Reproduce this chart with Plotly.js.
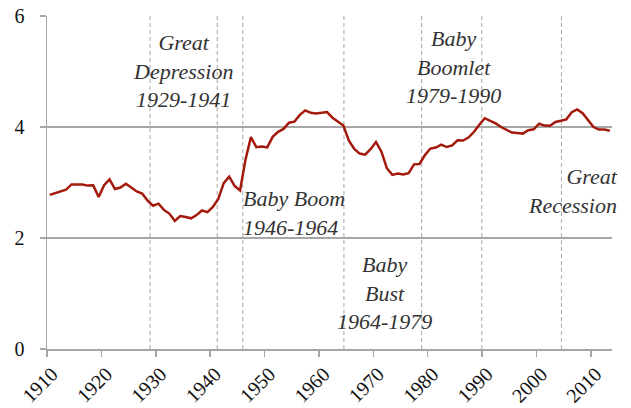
<!DOCTYPE html>
<html>
<head>
<meta charset="utf-8">
<script src="https://cdn.plot.ly/plotly-3.0.1.min.js"></script>
<style>html,body{margin:0;padding:0;background:#fff;}#chart{width:631px;height:408px;}</style>
</head>
<body>
<div id="chart"></div>
<script>
// US births (millions), 1910-2013
const years = [];
for (let y = 1910; y <= 2013; y++) years.push(y);
const births = [
  2.777, 2.809, 2.840, 2.869, 2.966, 2.965, 2.964, 2.944, 2.948, 2.740,
  2.950, 3.055, 2.882, 2.910, 2.979, 2.909, 2.839, 2.802, 2.674, 2.582,
  2.618, 2.506, 2.440, 2.307, 2.396, 2.377, 2.355, 2.413, 2.496, 2.466,
  2.559, 2.703, 2.989, 3.104, 2.939, 2.858, 3.411, 3.817, 3.637, 3.649,
  3.632, 3.823, 3.913, 3.965, 4.078, 4.097, 4.218, 4.300, 4.255, 4.245,
  4.258, 4.268, 4.167, 4.098, 4.027, 3.760, 3.606, 3.521, 3.502, 3.600,
  3.731, 3.556, 3.258, 3.137, 3.160, 3.144, 3.168, 3.327, 3.333, 3.494,
  3.612, 3.629, 3.681, 3.639, 3.669, 3.761, 3.757, 3.809, 3.910, 4.041,
  4.158, 4.111, 4.065, 4.000, 3.953, 3.900, 3.891, 3.881, 3.942, 3.959,
  4.059, 4.026, 4.022, 4.090, 4.112, 4.138, 4.266, 4.316, 4.248, 4.131,
  3.999, 3.954, 3.953, 3.932
];
const tickYears = [1910, 1920, 1930, 1940, 1950, 1960, 1970, 1980, 1990, 2000, 2010];
const yTicks = [0, 2, 4, 6];
// era boundary lines (positions)
const eraLines = [1928.45, 1940.8, 1945.5, 1964.1, 1978.4, 1989.45, 2004.1];
const eraLabels = [
  {text: "Great<br>Depression<br>1929-1941", x: 1934.5, y: 5.01, xanchor: "center", align: "center"},
  {text: "Baby<br>Boomlet<br>1979-1990", x: 1984.3, y: 5.08, xanchor: "center", align: "center"},
  {text: "Baby Boom<br>1946-1964", x: 1945.2, y: 2.45, xanchor: "left", align: "left"},
  {text: "Baby<br>Bust<br>1964-1979", x: 1971.5, y: 1.01, xanchor: "center", align: "center"}
];
const recessionLabel = {text: "Great<br>Recession", x: 1.014, y: 2.85};

const axisGray = "#a6a6a6";
const fontFam = "Liberation Serif, Times New Roman, serif";
const annFont = {family: fontFam, size: 22, color: "#333333", style: "italic"};

const trace = {
  x: years, y: births, type: "scatter", mode: "lines",
  line: {color: "#a3190c", width: 2.5}, hoverinfo: "x+y"
};

const shapes = eraLines.map(v => ({
  type: "line", xref: "x", yref: "paper", x0: v, x1: v, y0: 0, y1: 1,
  line: {color: "#a8a8a8", width: 1, dash: "4px,3px"}, layer: "below"
}));

const annotations = eraLabels.map(a => ({
  text: a.text, x: a.x, y: a.y, xref: "x", yref: "y",
  xanchor: a.xanchor, yanchor: "middle", align: a.align, showarrow: false,
  font: annFont
}));
annotations.push({
  text: recessionLabel.text, x: recessionLabel.x, y: recessionLabel.y,
  xref: "paper", yref: "y", xanchor: "right", yanchor: "middle", align: "right",
  showarrow: false, font: annFont
});

const layout = {
  width: 631, height: 408,
  margin: {l: 47, r: 19, t: 16, b: 59, pad: 0},
  paper_bgcolor: "#ffffff", plot_bgcolor: "#ffffff",
  showlegend: false,
  xaxis: {
    range: [1909.5, 2013.4],
    tickmode: "array",
    tickvals: tickYears.map(y => y - 0.5),
    ticktext: tickYears.map(String),
    tickangle: -45,
    ticks: "outside", ticklen: 6, tickwidth: 1.5, tickcolor: axisGray,
    showline: true, linecolor: axisGray, linewidth: 1.5,
    showgrid: false, zeroline: false,
    ticklabelshift: 5, ticklabelstandoff: -2,
    tickfont: {family: fontFam, size: 20, color: "#111111"}
  },
  yaxis: {
    range: [0, 6],
    tickmode: "array", tickvals: yTicks, ticktext: yTicks.map(String),
    ticks: "outside", ticklen: 6, tickwidth: 1.5, tickcolor: axisGray,
    showline: true, linecolor: axisGray, linewidth: 1.5,
    showgrid: true, gridcolor: axisGray, gridwidth: 1.5,
    zeroline: false,
    ticklabelstandoff: 11,
    tickfont: {family: fontFam, size: 20, color: "#111111"}
  },
  shapes: shapes,
  annotations: annotations
};

Plotly.newPlot("chart", [trace], layout, {displayModeBar: false, staticPlot: true});
</script>
</body>
</html>
